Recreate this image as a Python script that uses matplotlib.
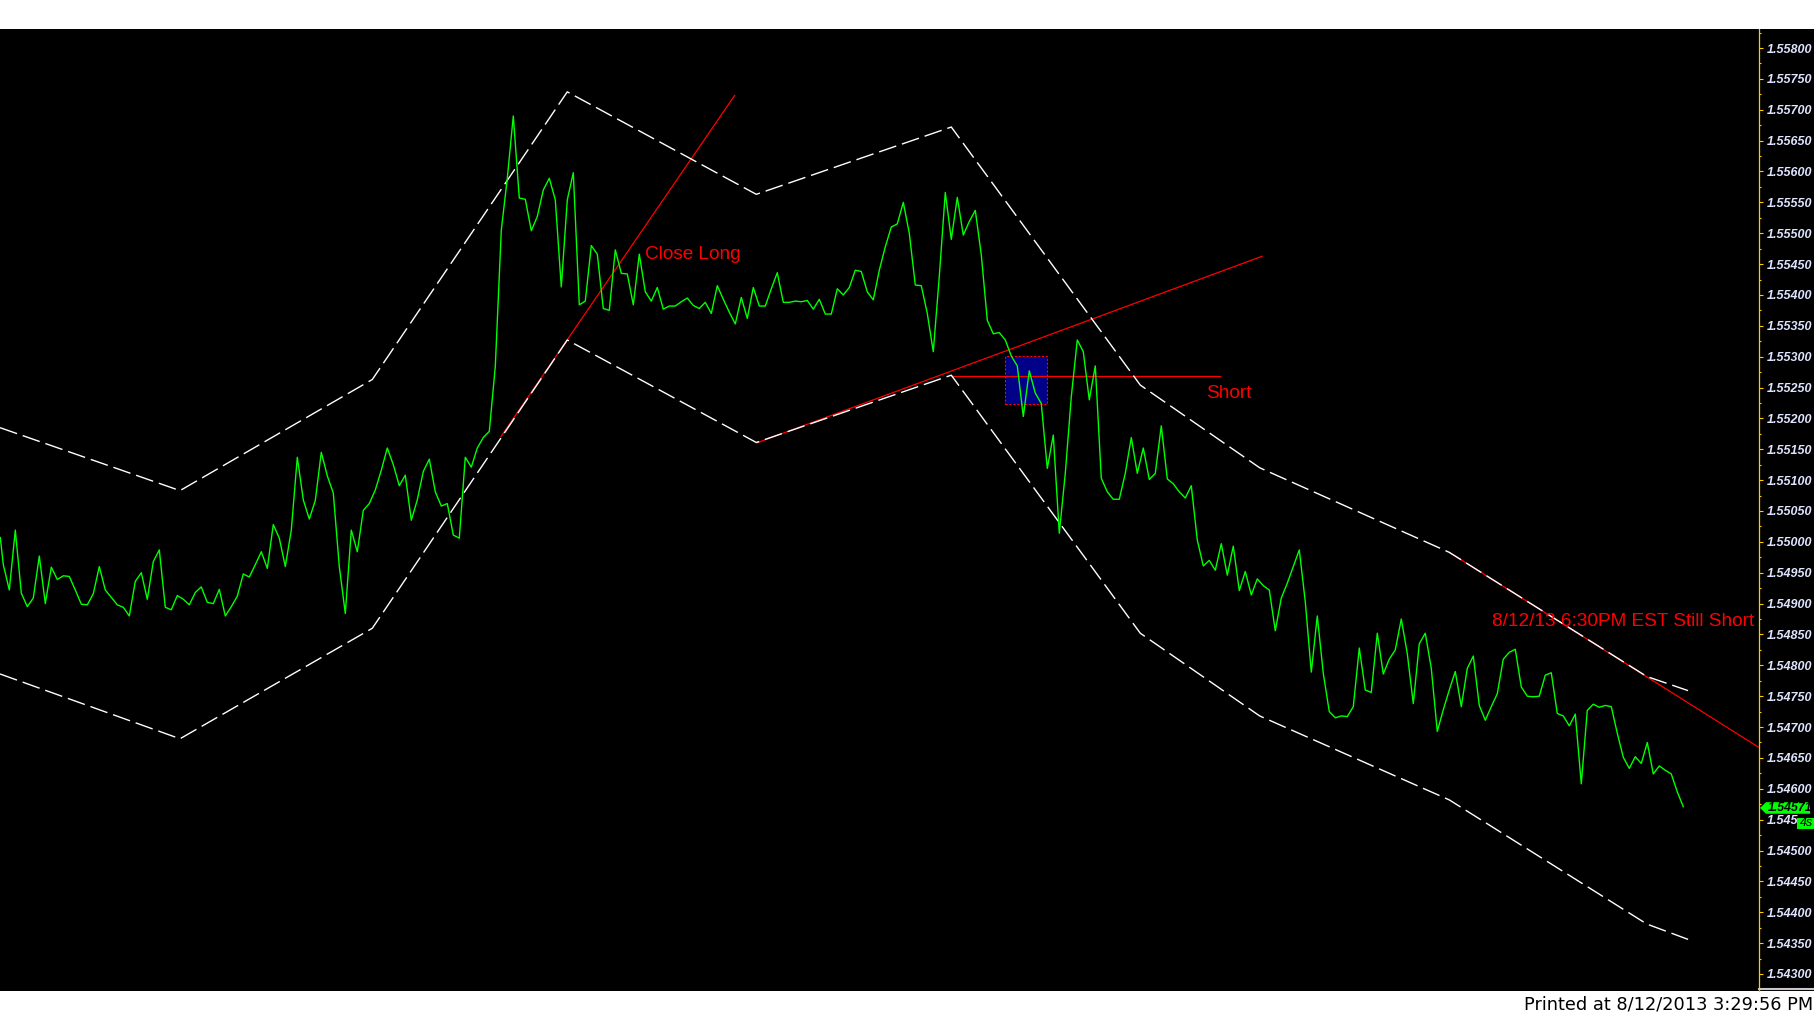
import numpy as np
import matplotlib
matplotlib.use("Agg")
import matplotlib.pyplot as plt
from matplotlib.patches import Rectangle, Polygon
from matplotlib.ticker import MultipleLocator
from matplotlib.lines import Line2D

# ---------------- data ----------------
price_bars = [-0.5] + list(range(281))
price_close = [
    1.55007,
    1.54963, 1.54922, 1.55019, 1.54917, 1.54895, 1.54909, 1.54977, 1.54900, 1.54959, 1.54939,
    1.54945, 1.54944, 1.54922, 1.54899, 1.54898, 1.54916, 1.54960, 1.54922, 1.54910, 1.54898,
    1.54894, 1.54880, 1.54936, 1.54950, 1.54907, 1.54968, 1.54987, 1.54894, 1.54890, 1.54913,
    1.54907, 1.54898, 1.54918, 1.54927, 1.54902, 1.54900, 1.54923, 1.54880, 1.54895, 1.54912,
    1.54948, 1.54943, 1.54963, 1.54984, 1.54957, 1.55028, 1.55006, 1.54960, 1.55019, 1.55137,
    1.55068, 1.55037, 1.55067, 1.55145, 1.55107, 1.55079, 1.54960, 1.54884, 1.55019, 1.54984,
    1.55051, 1.55062, 1.55084, 1.55116, 1.55152, 1.55125, 1.55091, 1.55108, 1.55035, 1.55068,
    1.55114, 1.55134, 1.55081, 1.55058, 1.55062, 1.55011, 1.55006, 1.55137, 1.55121, 1.55152,
    1.55169, 1.55179, 1.55284, 1.55505, 1.55589, 1.55690, 1.55557, 1.55555, 1.55504, 1.55527,
    1.55570, 1.55589, 1.55554, 1.55413, 1.55554, 1.55598, 1.55384, 1.55390, 1.55480, 1.55466,
    1.55378, 1.55375, 1.55473, 1.55435, 1.55434, 1.55384, 1.55466, 1.55405, 1.55390, 1.55412,
    1.55377, 1.55382, 1.55382, 1.55389, 1.55395, 1.55383, 1.55378, 1.55388, 1.55370, 1.55415,
    1.55393, 1.55372, 1.55353, 1.55396, 1.55362, 1.55412, 1.55382, 1.55382, 1.55410, 1.55436,
    1.55388, 1.55388, 1.55390, 1.55389, 1.55391, 1.55377, 1.55393, 1.55369, 1.55369, 1.55410,
    1.55400, 1.55412, 1.55440, 1.55438, 1.55405, 1.55392, 1.55440, 1.55478, 1.55510, 1.55515,
    1.55550, 1.55500, 1.55416, 1.55415, 1.55370, 1.55308, 1.55430, 1.55566, 1.55490, 1.55558,
    1.55497, 1.55519, 1.55537, 1.55465, 1.55359, 1.55337, 1.55339, 1.55327, 1.55301, 1.55285,
    1.55203, 1.55277, 1.55241, 1.55224, 1.55119, 1.55173, 1.55014, 1.55111, 1.55235, 1.55327,
    1.55308, 1.55230, 1.55285, 1.55103, 1.55081, 1.55069, 1.55069, 1.55111, 1.55169, 1.55111,
    1.55152, 1.55101, 1.55111, 1.55188, 1.55102, 1.55094, 1.55081, 1.55071, 1.55091, 1.55003,
    1.54961, 1.54970, 1.54954, 1.54997, 1.54946, 1.54993, 1.54921, 1.54952, 1.54914, 1.54940,
    1.54929, 1.54922, 1.54856, 1.54909, 1.54933, 1.54960, 1.54987, 1.54903, 1.54789, 1.54880,
    1.54787, 1.54725, 1.54715, 1.54718, 1.54717, 1.54733, 1.54828, 1.54760, 1.54756, 1.54852,
    1.54786, 1.54810, 1.54825, 1.54875, 1.54819, 1.54738, 1.54835, 1.54852, 1.54795, 1.54693,
    1.54728, 1.54760, 1.54790, 1.54733, 1.54795, 1.54815, 1.54735, 1.54711, 1.54733, 1.54754,
    1.54810, 1.54821, 1.54826, 1.54765, 1.54750, 1.54749, 1.54750, 1.54784, 1.54788, 1.54722,
    1.54718, 1.54702, 1.54721, 1.54608, 1.54727, 1.54737, 1.54732, 1.54735, 1.54733, 1.54690,
    1.54651, 1.54633, 1.54652, 1.54641, 1.54675, 1.54624, 1.54637, 1.54630, 1.54624, 1.54595,
    1.54571,
]

# channel (white dashed envelope)
env_bars  = [-0.55, 29.45, 61.5, 94.0, 125.5, 158.0, 189.5, 209.4, 241.0, 273.9, 280.8]
env_upper = [1.55185, 1.55083, 1.55263, 1.55729, 1.55563, 1.55672, 1.55254, 1.55120, 1.54983, 1.54782, 1.54759]
env_lower = [1.54786, 1.54681, 1.54860, 1.55327, 1.55161, 1.55270, 1.54852, 1.54718, 1.54582, 1.54381, 1.54356]

# red trend lines (bar, price) pairs
trend_lines = [
    ([82.9, 121.95], [1.55170, 1.55724]),
    ([125.5, 209.9], [1.55160, 1.55463]),
    ([157.95, 202.9], [1.55269, 1.55269]),
    ([241.0, 292.6], [1.54983, 1.54667]),
]

# highlighted box
box_bars = [167.0, 174.0]
box_prices = [1.55223, 1.55301]

# annotations (bar, price, text)
notes = [
    (106.95, 1.55459, "Close Long"),
    (200.45, 1.55233, "Short"),
    (248.07, 1.54863, "8/12/13 6:30PM EST Still Short"),
]

tick_values = [1.54300, 1.54350, 1.54400, 1.54450, 1.54500, 1.54550, 1.54600, 1.54650,
               1.54700, 1.54750, 1.54800, 1.54850, 1.54900, 1.54950, 1.55000, 1.55050,
               1.55100, 1.55150, 1.55200, 1.55250, 1.55300, 1.55350, 1.55400, 1.55450,
               1.55500, 1.55550, 1.55600, 1.55650, 1.55700, 1.55750, 1.55800]
# the 1.54550 label is partly hidden behind the timer box in the original
tick_labels = ["1.545" if abs(v - 1.54550) < 1e-9 else "%.5f" % v for v in tick_values]
printed_text = "Printed at 8/12/2013 3:29:56 PM"
timer_text = "4s"

# ---------------- figure ----------------
W, H = 1815, 1015
fig = plt.figure(figsize=(W / 100, H / 100), dpi=100, facecolor="white")

top_px, bot_px, right_px = 29.0, 990.7, 1758.7
fig.patches.append(Rectangle((0, 1 - bot_px / H), 1, (bot_px - top_px) / H,
                             transform=fig.transFigure, facecolor="black",
                             edgecolor="none", zorder=-10))

ax = fig.add_axes([0, 1 - bot_px / H, right_px / W, (bot_px - top_px) / H])
ax.set_facecolor("black")
ax.set_xlim(-0.55, 292.57)
ax.set_ylim(1.542729, 1.558308)

for s in ["left", "top", "bottom"]:
    ax.spines[s].set_visible(False)
ax.spines["right"].set_color("#ffcc00")
ax.spines["right"].set_linewidth(0.9)
ax.set_xticks([])
ax.yaxis.tick_right()
ax.set_yticks(tick_values)
ax.set_yticklabels(tick_labels)
ax.yaxis.set_minor_locator(MultipleLocator(0.00025))
ax.tick_params(axis="y", which="major", direction="out", length=3.2, width=0.8,
               color="#ffcc00", pad=2.8, labelsize=9.0, labelcolor="#dfe4ff")
ax.tick_params(axis="y", which="minor", direction="out", length=1.6, width=0.8,
               color="#ffcc00")
for lab in ax.get_yticklabels():
    lab.set_fontfamily("Liberation Sans")
    lab.set_fontweight("bold")
    lab.set_fontstyle("italic")

# box
ax.add_patch(Rectangle((box_bars[0], box_prices[0]), box_bars[1] - box_bars[0],
                       box_prices[1] - box_prices[0], facecolor="#000088",
                       edgecolor="#ff0000", linestyle=(0, (2, 1.5)), lw=0.8, zorder=2))

# red lines
for xs, ys in trend_lines:
    ax.plot(xs, ys, color="#ff0000", lw=0.9, zorder=3, solid_capstyle="butt")

# envelope
for env in (env_upper, env_lower):
    ax.plot(env_bars, env, color="white", lw=1.0, dashes=(13, 4.3), zorder=4)

# price line
ax.plot(price_bars, price_close, color="#00ff00", lw=1.0, zorder=5)

# notes
for bx, py, txt in notes:
    ax.text(bx, py, txt, color="#ff0000", fontsize=13.7, family="Liberation Sans",
            ha="left", va="baseline", zorder=6)

# printed text
fig.text(1813 / W, 1 - 1009.3 / H, printed_text, ha="right", va="baseline",
         fontsize=12.8, family="DejaVu Sans", color="black")

# bottom gray line under axis
fig.lines.append(Line2D([right_px / W, 1813 / W], [1 - 989.0 / H, 1 - 989.0 / H],
                        transform=fig.transFigure, color="#c8c8c8", lw=1.5))

# last price tag (display coordinates)
fig.canvas.draw()
last = price_close[-1]
yd = ax.transData.transform((0, last))[1] - 1.3
tag = Polygon([(1760, yd), (1766, yd + 5.8), (1810, yd + 5.8), (1810, yd - 5.8), (1766, yd - 5.8)],
              closed=True, transform=None, facecolor="#00ff00", edgecolor="none", zorder=20)
fig.patches.append(tag)
fig.text(1767.5 / W, yd / H, "%.5f" % last, ha="left", va="center", fontsize=8.8,
         fontweight="bold", fontstyle="italic", family="Liberation Sans", color="black", zorder=21)
fig.patches.append(Rectangle((1797, yd - 21), 18, 11, transform=None,
                             facecolor="#00ff00", edgecolor="none", zorder=20))
fig.text(1806.5 / W, (yd - 15.5) / H, timer_text, ha="center", va="center", fontsize=9.0,
         fontstyle="italic", family="Liberation Sans", color="black", zorder=21)

fig.savefig("out.png", dpi=100, facecolor="white")
